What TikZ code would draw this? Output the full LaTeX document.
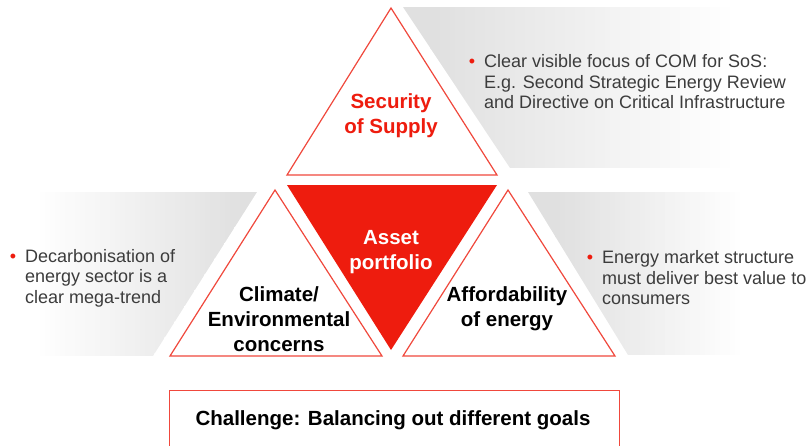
\documentclass[tikz,border=0pt]{standalone}
\usepackage{fontspec}
\setmainfont{Liberation Sans}
\usetikzlibrary{calc}
\definecolor{corered}{RGB}{238,28,14}
\definecolor{edgered}{RGB}{240,72,60}
\definecolor{notegrey}{RGB}{60,60,60}
\definecolor{bandgrey}{RGB}{224,224,224}
\tikzset{
% Two kinds of triangle: outlined goal and filled core
goal triangle/.style={draw=edgered,line width=1.2pt,fill=white,line join=miter},
core triangle/.style={fill=corered},
% Labels and bullet notes
goal label/.style={font=\fontsize{20.5}{25}\selectfont\bfseries,align=center,inner sep=0},
note text/.style={font=\fontsize{18}{20.5}\selectfont,text=notegrey,align=left,anchor=west,inner sep=0}
}
\newcommand{\redbullet}{\llap{\textcolor{corered}{\textbullet}\hspace{9pt}}}

\begin{document}
\begin{tikzpicture}[x=1pt,y=-1pt]
\useasboundingbox (0,0) rectangle (806,445);
\clip (0,0) rectangle (806,445);
% Grey bands behind the notes, fading out to white in 5pt strips
\begin{scope}
\clip (403,7) -- (806,7) -- (806,168) -- (510,168) -- cycle;
\fill[bandgrey] (400,7) rectangle (431,168);
\foreach \i in {0,...,60}{
  \pgfmathsetmacro{\p}{100-100*\i/60}
  \fill[bandgrey!\p!white] (430+5*\i,7) rectangle (435.3+5*\i,168);
}
\end{scope}
\begin{scope}
\clip (0,192) -- (257,192) -- (153,356) -- (0,356) -- cycle;
\fill[bandgrey] (244,192) rectangle (260,356);
\foreach \i in {0,...,41}{
  \pgfmathsetmacro{\p}{100*\i/41}
  \fill[bandgrey!\p!white] (35+5*\i,192) rectangle (40.3+5*\i,356);
}
\end{scope}
\begin{scope}
\clip (528,192) -- (806,192) -- (806,355) -- (628,355) -- cycle;
\fill[bandgrey] (525,192) rectangle (556,355);
\foreach \i in {0,...,37}{
  \pgfmathsetmacro{\p}{100-100*\i/37}
  \fill[bandgrey!\p!white] (555+5*\i,192) rectangle (560.3+5*\i,355);
}
\end{scope}
% The four triangles
\draw[goal triangle] (391,8) -- (497,175) -- (287,175) -- cycle;
\draw[goal triangle] (275,190) -- (382,356) -- (170,356) -- cycle;
\draw[goal triangle] (508,190) -- (615,356) -- (403,356) -- cycle;
\fill[core triangle] (287,185) -- (497,185) -- (391,350) -- cycle;
% Labels
\node(sos)[goal label,text=corered] at (391,116) {Security\\of Supply};
\node(asset)[goal label,text=white] at (391,252) {Asset\\portfolio};
\node(climate)[goal label] at (279,319) {Climate/\\Environmental\\concerns};
\node(afford)[goal label] at (507,309) {Affordability\\of energy};
% Notes
\node(sosnote)[note text] at (484,82) {\redbullet Clear visible focus of COM for SoS:\\E.g. Second Strategic Energy Review\\and Directive on Critical Infrastructure};
\node(climatenote)[note text] at (25,278) {\redbullet Decarbonisation of\\energy sector is a\\clear mega-trend};
\node(affordnote)[note text] at (602,278) {\redbullet Energy market structure\\must deliver best value to\\consumers};
% Challenge box
\node(challenge)[draw=edgered,line width=1pt,minimum width=450pt,minimum height=62pt,anchor=north,inner sep=0] at (394,390) {};
\node(challengetext)[goal label] at (393,420) {Challenge: Balancing out different goals};
\end{tikzpicture}
\end{document}
